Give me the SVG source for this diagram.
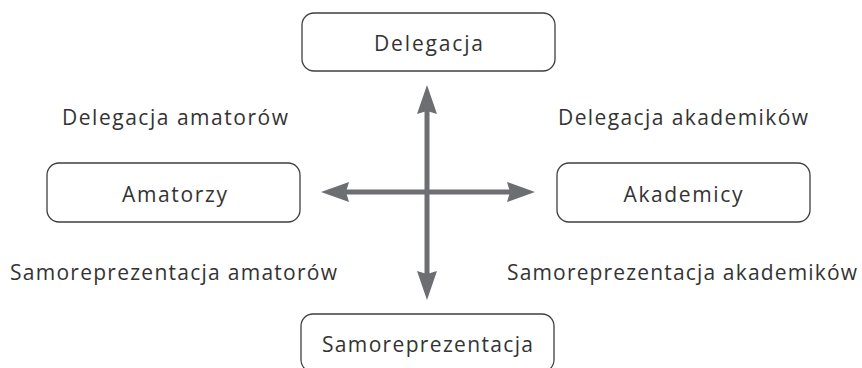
<svg xmlns="http://www.w3.org/2000/svg" width="862" height="368" viewBox="0 0 862 368">
<style>
.box{fill:#ffffff;stroke:#3f3f3f;stroke-width:1.3}
.t{font-family:"Open Sans","Noto Sans",sans-serif;font-size:21px;fill:#333333;text-anchor:middle}
.ax{stroke:#6d6e71;stroke-width:5;fill:none}
.ah{fill:#6d6e71}
</style>
<rect width="862" height="368" fill="#ffffff"/>
<g id="connectors">
<line class="ax" x1="427" y1="108" x2="427" y2="278"/>
<line class="ax" x1="344" y1="192" x2="512" y2="192"/>
<polygon class="ah" points="427,85 417,114 427,111 437,114"/>
<polygon class="ah" points="427,300 417,271 427,274 437,271"/>
<polygon class="ah" points="321,192 349,182 346,192 349,202"/>
<polygon class="ah" points="535,192 507,182 510,192 507,202"/>
</g>
<g id="node-delegacja">
<rect class="box" x="302" y="13" width="253" height="58" rx="12"/>
<text class="t" x="428.5" y="51" textLength="109" lengthAdjust="spacing">Delegacja</text>
</g>
<g id="node-amatorzy">
<rect class="box" x="47" y="163" width="253" height="59" rx="12"/>
<text class="t" x="174.5" y="201.5" textLength="105" lengthAdjust="spacing">Amatorzy</text>
</g>
<g id="node-akademicy">
<rect class="box" x="557" y="163" width="253" height="59" rx="12"/>
<text class="t" x="683" y="201.5" textLength="119" lengthAdjust="spacing">Akademicy</text>
</g>
<g id="node-samoreprezentacja">
<rect class="box" x="301" y="314" width="253" height="58" rx="12"/>
<text class="t" x="427.5" y="351.5" textLength="211" lengthAdjust="spacing">Samoreprezentacja</text>
</g>
<g id="label-delegacja-amatorow">
<text class="t" x="175" y="125" textLength="226" lengthAdjust="spacing">Delegacja amatorów</text>
</g>
<g id="label-delegacja-akademikow">
<text class="t" x="683" y="125" textLength="250" lengthAdjust="spacing">Delegacja akademików</text>
</g>
<g id="label-samoreprezentacja-amatorow">
<text class="t" x="173.5" y="280" textLength="327" lengthAdjust="spacing">Samoreprezentacja amatorów</text>
</g>
<g id="label-samoreprezentacja-akademikow">
<text class="t" x="682" y="280" textLength="350" lengthAdjust="spacing">Samoreprezentacja akademików</text>
</g>
</svg>
